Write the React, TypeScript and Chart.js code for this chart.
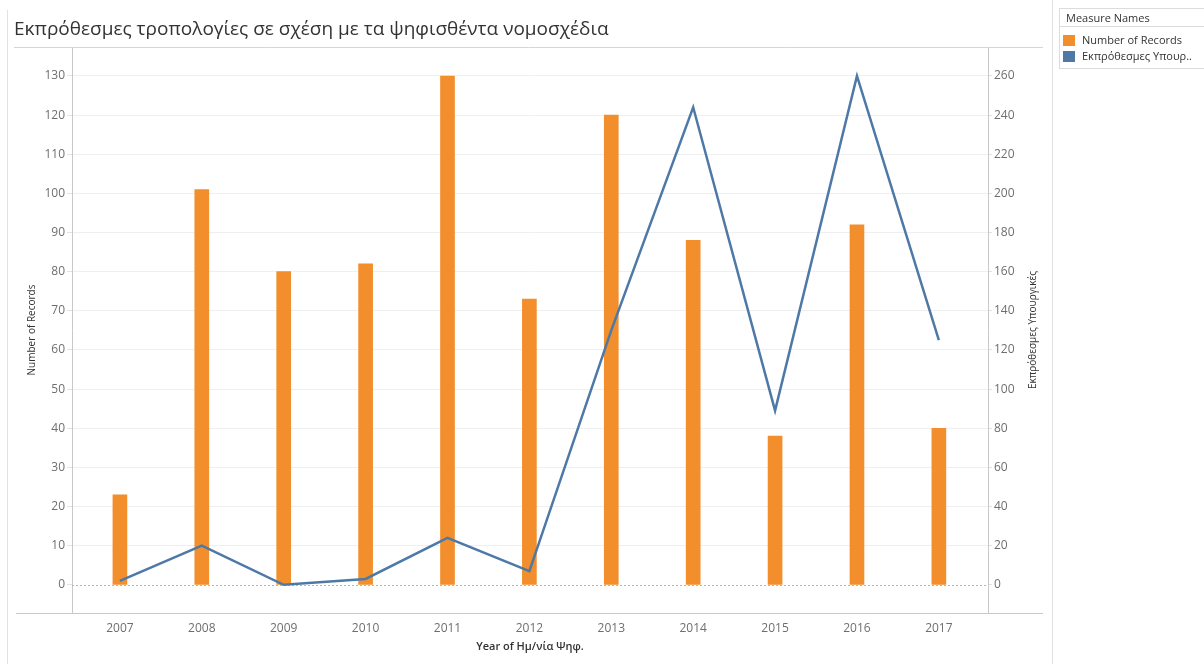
import React, { useEffect, useRef } from "react";
import { Chart, registerables } from "chart.js";

Chart.register(...registerables);

const years = [2007, 2008, 2009, 2010, 2011, 2012, 2013, 2014, 2015, 2016, 2017];
const records = [23, 101, 80, 82, 130, 73, 120, 88, 38, 92, 40];
const overdue = [2, 20, 0, 3, 24, 7, 130, 244, 89, 260, 125];
const leftTicks = [0, 10, 20, 30, 40, 50, 60, 70, 80, 90, 100, 110, 120, 130];
const rightTicks = [0, 20, 40, 60, 80, 100, 120, 140, 160, 180, 200, 220, 240, 260];

const titleText = "Εκπρόθεσμες τροπολογίες σε σχέση με τα ψηφισθέντα νομοσχέδια";
const xTitle = "Year of Ημ/νία Ψηφ.";
const leftTitle = "Number of Records";
const rightTitle = "Εκπρόθεσμες Υπουργικές";
const legendTitle = "Measure Names";
const legendItems = ["Number of Records", "Εκπρόθεσμες Υπουρ.."];

const FONT = "'Open Sans', 'Noto Sans', sans-serif";
const ORANGE = "#f28e2b";
const BLUE = "#4e79a7";
const TICK = "#6e6e6e";

const framePlugin = {
  id: "frame",
  beforeDatasetsDraw(chart: any) {
    const ctx = chart.ctx;
    const area = chart.chartArea;
    const y0 = Math.round(chart.scales.y.getPixelForValue(0)) + 0.5;
    ctx.save();
    ctx.strokeStyle = "#b5b5b5";
    ctx.lineWidth = 1;
    ctx.setLineDash([2, 2]);
    ctx.beginPath();
    ctx.moveTo(area.left, y0);
    ctx.lineTo(area.right, y0);
    ctx.stroke();
    ctx.restore();
  },
  afterDraw(chart: any) {
    const ctx = chart.ctx;
    const area = chart.chartArea;
    ctx.save();
    ctx.lineWidth = 1;
    ctx.strokeStyle = "#e2e2e2";
    ctx.beginPath();
    ctx.moveTo(7.5, 10);
    ctx.lineTo(7.5, 664);
    ctx.moveTo(1052.5, 0);
    ctx.lineTo(1052.5, 664);
    ctx.stroke();
    ctx.strokeStyle = "#d6d6d6";
    ctx.beginPath();
    ctx.moveTo(14, Math.round(area.top) + 0.5);
    ctx.lineTo(1043, Math.round(area.top) + 0.5);
    ctx.stroke();
    ctx.strokeStyle = "#c8c8c8";
    ctx.beginPath();
    ctx.moveTo(16, Math.round(area.bottom) + 0.5);
    ctx.lineTo(1043, Math.round(area.bottom) + 0.5);
    ctx.stroke();
    ctx.fillStyle = "#333";
    ctx.textAlign = "center";
    ctx.textBaseline = "middle";
    ctx.font = `10px ${FONT}`;
    const cy = (area.top + area.bottom) / 2;
    ctx.save();
    ctx.translate(32, cy);
    ctx.rotate(-Math.PI / 2);
    ctx.fillText(leftTitle, 0, 0);
    ctx.restore();
    ctx.save();
    ctx.translate(1033, cy);
    ctx.rotate(-Math.PI / 2);
    ctx.fillText(rightTitle, 0, 0);
    ctx.restore();
    ctx.font = `600 11px ${FONT}`;
    ctx.fillText(xTitle, (area.left + area.right) / 2, 647);
    ctx.restore();
  },
};

export default function App() {
  const ref = useRef<HTMLCanvasElement>(null);

  useEffect(() => {
    if (!ref.current) return;
    Chart.defaults.font.family = FONT;
    const chart = new Chart(ref.current, {
      type: "bar",
      data: {
        datasets: [
          {
            type: "line",
            label: legendItems[1],
            data: years.map((y, i) => ({ x: y, y: overdue[i] })),
            yAxisID: "y1",
            borderColor: BLUE,
            backgroundColor: BLUE,
            borderWidth: 2.5,
            pointRadius: 0,
            tension: 0,
            order: 0,
          } as any,
          {
            type: "bar",
            label: legendItems[0],
            data: years.map((y, i) => ({ x: y, y: records[i] })),
            yAxisID: "y",
            backgroundColor: ORANGE,
            barThickness: 14,
            order: 1,
          } as any,
        ],
      },
      options: {
        responsive: false,
        animation: false,
        layout: { padding: { left: 14, right: 161, top: 47, bottom: 0 } },
        plugins: { legend: { display: false }, tooltip: { enabled: false } },
        scales: {
          x: {
            type: "linear",
            min: 2006.415,
            max: 2017.6,
            offset: false,
            grid: { display: false },
            border: { display: false },
            ticks: {
              color: TICK,
              font: { size: 12 },
              padding: 0,
              maxRotation: 0,
              callback: (v: any) => String(v),
            },
            afterBuildTicks: (s: any) => {
              s.ticks = years.map((v) => ({ value: v }));
            },
            afterFit: (s: any) => {
              s.height = 51;
            },
          },
          y: {
            position: "left",
            min: -7.2,
            max: 137.4,
            grid: {
              color: (c: any) => (c.tick && c.tick.value === 0 ? "rgba(0,0,0,0)" : "#efefef"),
              tickColor: "#e2e2e2",
              tickLength: 5,
            },
            border: { display: true, color: "#c8c8c8" },
            ticks: { color: TICK, font: { size: 12 }, padding: 2 },
            afterBuildTicks: (s: any) => {
              s.ticks = leftTicks.map((v) => ({ value: v }));
            },
            afterFit: (s: any) => {
              s.width = 58;
            },
          },
          y1: {
            position: "right",
            min: -14.4,
            max: 274.8,
            grid: { drawOnChartArea: false, tickColor: "#e2e2e2", tickLength: 4 },
            border: { display: true, color: "#c8c8c8" },
            ticks: { color: TICK, font: { size: 12 }, padding: 2 },
            afterBuildTicks: (s: any) => {
              s.ticks = rightTicks.map((v) => ({ value: v }));
            },
            afterFit: (s: any) => {
              s.width = 55;
            },
          },
        },
      } as any,
      plugins: [framePlugin],
    });
    return () => chart.destroy();
  }, []);

  return (
    <div
      style={{
        position: "absolute",
        left: 0,
        top: 0,
        width: 1204,
        height: 664,
        background: "#fff",
        overflow: "hidden",
        fontFamily: FONT,
      }}
    >
      <canvas
        ref={ref}
        width={1204}
        height={664}
        style={{ position: "absolute", left: 0, top: 0, width: 1204, height: 664, display: "block" }}
      />
      <div
        style={{
          position: "absolute",
          left: 14,
          top: 15,
          fontSize: 19,
          lineHeight: "26px",
          color: "#333",
          whiteSpace: "nowrap",
        }}
      >
        {titleText}
      </div>
      <div
        style={{
          position: "absolute",
          left: 1059,
          top: 8,
          width: 150,
          height: 61,
          border: "1px solid #dcdcdc",
          boxSizing: "border-box",
          fontSize: 11,
          color: "#333",
        }}
      >
        <div
          style={{
            height: 17,
            lineHeight: "17px",
            paddingLeft: 6,
            borderBottom: "1px solid #dcdcdc",
            whiteSpace: "nowrap",
          }}
        >
          {legendTitle}
        </div>
        {legendItems.map((t, i) => (
          <div
            key={t}
            style={{
              position: "absolute",
              left: 3,
              top: 25 + i * 16,
              height: 12,
              display: "flex",
              alignItems: "center",
              whiteSpace: "nowrap",
            }}
          >
            <span
              style={{
                display: "inline-block",
                width: 12,
                height: 11,
                background: i === 0 ? ORANGE : BLUE,
                marginRight: 7,
              }}
            />
            <span style={{ lineHeight: "12px" }}>{t}</span>
          </div>
        ))}
      </div>
    </div>
  );
}
